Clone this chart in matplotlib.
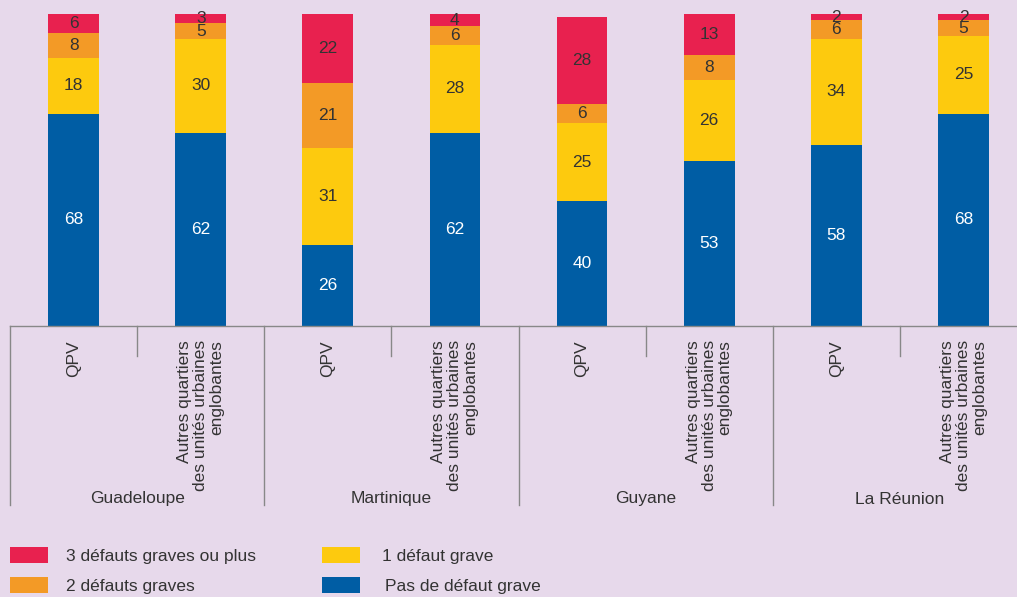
import matplotlib
matplotlib.use("Agg")
import matplotlib.pyplot as plt
from matplotlib.patches import Rectangle
from matplotlib.lines import Line2D

regions = ["Guadeloupe", "Martinique", "Guyane", "La Réunion"]
subcats = ["QPV", "Autres quartiers\ndes unités urbaines\nenglobantes"]
series_names = ["Pas de défaut grave", "1 défaut grave", "2 défauts graves", "3 défauts graves ou plus"]
pas_defaut = [68, 62, 26, 62, 40, 53, 58, 68]
un_defaut = [18, 30, 31, 28, 25, 26, 34, 25]
deux_defauts = [8, 5, 21, 6, 6, 8, 6, 5]
trois_defauts = [6, 3, 22, 4, 28, 13, 2, 2]

colors = ["#005DA4", "#FDCA0E", "#F39A26", "#E8214F"]
label_colors = ["white", "#333333", "#333333", "#333333"]
bg = "#E7D9EB"
font = "Liberation Sans"
plt.rcParams["font.family"] = [font, "DejaVu Sans"]
fs = 12.5

W, H = 1017, 597
fig = plt.figure(figsize=(W / 100, H / 100), dpi=100, facecolor=bg)
ax = fig.add_axes([10 / W, (H - 326) / H, 1017 / W, 312 / H])
ax.set_facecolor(bg)

series = [pas_defaut, un_defaut, deux_defauts, trois_defauts]
n = len(pas_defaut)
x = list(range(n))
bottom = [0] * n
for vals, c, lc in zip(series, colors, label_colors):
    ax.bar(x, vals, bottom=bottom, width=0.40, color=c, edgecolor="none")
    for xi, v, b in zip(x, vals, bottom):
        ax.text(xi, b + v / 2, str(v), ha="center", va="center", color=lc, fontsize=fs)
    bottom = [b + v for b, v in zip(bottom, vals)]

ax.set_xlim(-0.5, n - 0.5)
ax.set_ylim(0, 100)
for s in ["top", "right", "left"]:
    ax.spines[s].set_visible(False)
ax.spines["bottom"].set_color("#888888")
ax.spines["bottom"].set_linewidth(1)
ax.set_xticks([])
ax.set_yticks([])

trans = matplotlib.transforms.blended_transform_factory(ax.transData, fig.transFigure)
def fy(py):
    return (H - py) / H

for i in range(n):
    ax.text(i, fy(340), subcats[i % 2], transform=trans, rotation=90,
            ha="center", va="top", multialignment="right", fontsize=fs, color="#333333",
            linespacing=1.08)
for g in range(len(regions)):
    left = 2 * g - 0.5
    fig.add_artist(Line2D([left, left], [fy(326), fy(505)], transform=trans,
                          color="#888888", lw=1))
    fig.add_artist(Line2D([2 * g + 0.5, 2 * g + 0.5], [fy(326), fy(356)], transform=trans,
                          color="#888888", lw=1))
    ax.text(2 * g + 0.5, fy(499), regions[g], transform=trans, ha="center", va="center",
            fontsize=fs, color="#333333")

leg = [(series_names[3], colors[3], 10, 555, 66),
       (series_names[2], colors[2], 10, 585, 66),
       (series_names[1], colors[1], 322, 555, 382),
       (series_names[0], colors[0], 322, 585, 385)]
for name, c, px, py, tx in leg:
    fig.add_artist(Rectangle((px / W, fy(py + 8)), 38 / W, 16 / H, transform=fig.transFigure,
                             color=c, lw=0))
    fig.text(tx / W, fy(py + 2), name, ha="left", va="center", fontsize=fs, color="#333333")

fig.savefig("out.png", dpi=100, facecolor=bg)
